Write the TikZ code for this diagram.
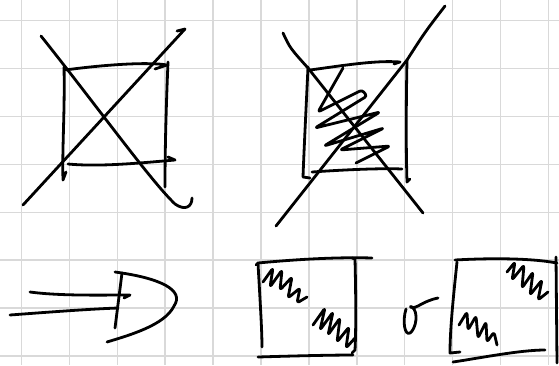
\documentclass[tikz,border=0pt]{standalone}
\usetikzlibrary{calc}
\begin{document}
\begin{tikzpicture}[x=0.75pt, y=-0.75pt,
    gridline/.style={draw=gray!30, line width=1.1pt},
    pen/.style={draw=black, line width=2.1pt, line cap=round, line join=round},
    scrib/.style={pen, rounded corners=2pt}]

    \useasboundingbox (0,0) rectangle (559,365);
    \fill[white] (0,0) rectangle (559,365);

    % Grid paper
    \foreach \i in {0,...,11}
        \draw[gridline] (21.5+47.9*\i,0) -- (21.5+47.9*\i,365);
    \foreach \j in {0,...,7}
        \draw[gridline] (0,20.7+47.9*\j) -- (559,20.7+47.9*\j);

    % Crossed-out empty box
    \draw[pen] (64,67) .. controls (65,110) and (62,150) .. (63,180) -- (66,172);
    \draw[pen] (65,70) .. controls (110,64) and (150,62) .. (167,65) -- (155,69);
    \draw[pen] (168,62) .. controls (166,110) and (165,150) .. (165,187);
    \draw[pen] (68,164) .. controls (100,167) and (140,163) .. (175,160) -- (168,157);
    \draw[pen] (41,36) .. controls (100,110) and (150,180) .. (175,204)
        .. controls (185,211) and (192,207) .. (192,198);
    \draw[pen] (23,205) -- (185,29) -- (177,31);

    % Crossed-out filled box
    \draw[pen] (308,67) .. controls (306,110) and (304,150) .. (303,177) -- (310,178);
    \draw[pen] (310,70) .. controls (340,66) and (375,60) .. (400,62) -- (394,64);
    \draw[pen] (407,60) .. controls (406,110) and (406,150) .. (407,182) -- (410,179);
    \draw[pen] (312,172) .. controls (340,170) and (380,168) .. (402,169);
    \draw[scrib] (343,68) -- (318,112) -- (362,90) -- (367,96) -- (315,128) -- (380,112)
        -- (324,146) -- (384,128) -- (340,150) -- (390,146) -- (356,163);
    \draw[pen] (283,33) .. controls (290,48) .. (308,68) -- (423,213);
    \draw[pen] (276,226) -- (407,60) .. controls (425,32) .. (445,6);

    % Implies arrow
    \draw[pen] (30,292) .. controls (60,296) and (100,295) .. (130,295) -- (124,298);
    \draw[pen] (10,315) .. controls (50,312) and (90,309) .. (118,308);
    \draw[pen] (122,273) -- (115,328);
    \draw[pen] (115,272) .. controls (160,278) and (185,290) .. (174,306)
        .. controls (165,325) and (130,335) .. (107,342);

    % Box with diagonal patches
    \draw[pen] (256,265) -- (258,263) .. controls (300,259) and (340,257) .. (372,258);
    \draw[pen] (258,263) .. controls (260,300) and (262,330) .. (262,347);
    \draw[pen] (352,258) -- (355,259) .. controls (356,300) and (356,330) .. (355,350) -- (352,353);
    \draw[pen] (258,357) .. controls (290,356) and (330,355) .. (353,355);
    \draw[scrib] (263,282) -- (273,268) -- (270,287) -- (282,270) -- (280,290) -- (292,277)
        -- (288,298) -- (300,288) -- (297,303) -- (307,297);
    \draw[scrib] (313,325) -- (325,308) -- (320,330) -- (333,312) -- (328,335) -- (340,318)
        -- (337,342) -- (349,327) -- (346,348) -- (355,338);

    % "or"
    \draw[pen] (406,309) .. controls (402,322) and (405,336) .. (410,333)
        .. controls (416,329) and (419,312) .. (412,307)
        .. controls (409,305) and (410,310) .. (418,306)
        .. controls (425,302) and (432,299) .. (438,298);

    % Box with anti-diagonal patches
    \draw[pen] (455,260) .. controls (490,258) and (530,258) .. (557,263);
    \draw[pen] (457,262) .. controls (453,300) and (450,330) .. (450,353) -- (460,352);
    \draw[pen] (453,362) .. controls (480,358) and (520,350) .. (545,350);
    \draw[pen] (556,257) -- (557,363);
    \draw[scrib] (507,272) -- (515,262) -- (512,280) -- (524,265) -- (522,288) -- (533,272)
        -- (530,295) -- (542,280) -- (538,300) -- (548,292);
    \draw[scrib] (459,325) -- (467,312) -- (468,330) -- (476,316) -- (478,338) -- (486,322)
        -- (487,342) -- (494,332) -- (497,345);
\end{tikzpicture}
\end{document}
